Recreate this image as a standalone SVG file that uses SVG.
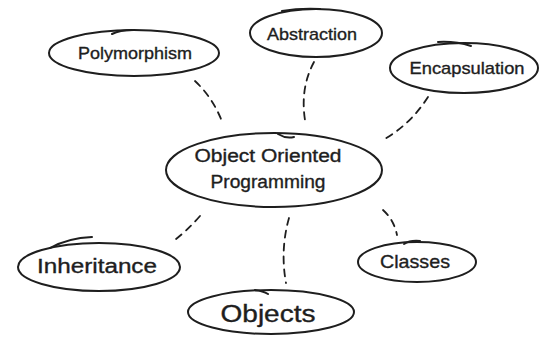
<svg xmlns="http://www.w3.org/2000/svg" width="543" height="337" viewBox="0 0 543 337">
  <style>
    .shape { fill: none; stroke: #1e1e1e; stroke-width: 2; stroke-linecap: round; }
    .edge { fill: none; stroke: #1e1e1e; stroke-width: 1.8; stroke-dasharray: 7 6; stroke-linecap: round; }
    text { font-family: "Liberation Sans", "DejaVu Sans", sans-serif; fill: #1e1e1e; stroke: #1e1e1e; stroke-width: 0.35; text-anchor: middle; }
  </style>
  <rect width="543" height="337" fill="#ffffff"/>
  <g id="connectors">
    <path class="edge" d="M 195 81 Q 212 97 221 119"/>
    <path class="edge" d="M 314 62 Q 300 88 305 120"/>
    <path class="edge" d="M 428 97 Q 410 125 383 140"/>
    <path class="edge" d="M 200 216 Q 186 232 172 242"/>
    <path class="edge" d="M 289 218 Q 280 250 286 283"/>
    <path class="edge" d="M 383 210 Q 394 220 397 235"/>
  </g>
  <g id="polymorphism">
    <ellipse class="shape" cx="134" cy="53" rx="85" ry="23"/>
    <path class="shape" d="M 112 34 Q 120 30 132 30"/>
    <text x="135" y="59" font-size="17" textLength="114" lengthAdjust="spacingAndGlyphs">Polymorphism</text>
  </g>
  <g id="abstraction">
    <ellipse class="shape" cx="316" cy="33" rx="66" ry="24"/>
    <path class="shape" d="M 282 11 Q 300 8 320 9" stroke-width="3"/>
    <text x="312" y="40" font-size="17" textLength="90" lengthAdjust="spacingAndGlyphs">Abstraction</text>
  </g>
  <g id="encapsulation">
    <ellipse class="shape" cx="464" cy="68" rx="74" ry="25"/>
    <path class="shape" d="M 438 42 Q 455 41 471 46"/>
    <text x="467" y="74" font-size="17" textLength="115" lengthAdjust="spacingAndGlyphs">Encapsulation</text>
  </g>
  <g id="oop">
    <ellipse class="shape" cx="274" cy="170" rx="108" ry="37"/>
    <path class="shape" d="M 278 134 Q 286 139 294 137"/>
    <text x="268" y="162" font-size="18" textLength="147" lengthAdjust="spacingAndGlyphs">Object Oriented</text>
    <text x="268" y="188" font-size="18" textLength="115" lengthAdjust="spacingAndGlyphs">Programming</text>
  </g>
  <g id="inheritance">
    <ellipse class="shape" cx="99" cy="267" rx="81" ry="24"/>
    <path class="shape" d="M 50 248 Q 68 238 92 237"/>
    <text x="97" y="273" font-size="20" textLength="120" lengthAdjust="spacingAndGlyphs">Inheritance</text>
  </g>
  <g id="objects">
    <ellipse class="shape" cx="271" cy="312" rx="83" ry="22"/>
    <path class="shape" d="M 255 290 Q 263 291 268 294"/>
    <text x="268" y="322" font-size="23" textLength="95" lengthAdjust="spacingAndGlyphs">Objects</text>
  </g>
  <g id="classes">
    <ellipse class="shape" cx="417" cy="262" rx="59" ry="20"/>
    <path class="shape" d="M 404 244 Q 410 240 420 241"/>
    <text x="415" y="268" font-size="19" textLength="70" lengthAdjust="spacingAndGlyphs">Classes</text>
  </g>
</svg>
